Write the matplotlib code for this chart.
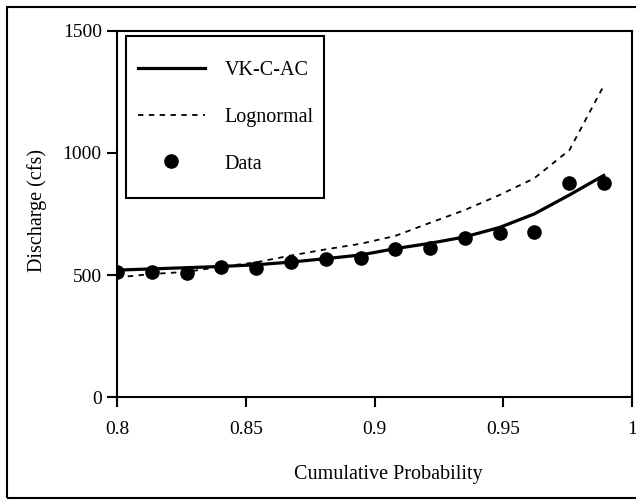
import matplotlib
matplotlib.use("Agg")
import matplotlib.pyplot as plt
from matplotlib.patches import Rectangle

# cumulative probability (plotting positions)
prob = [0.8, 0.8135, 0.827, 0.8405, 0.854, 0.8676, 0.881, 0.8946,
        0.908, 0.9216, 0.935, 0.9486, 0.962, 0.9757, 0.989]
# observed discharge (cfs)
data_q = [513, 512, 507, 534, 530, 554, 564, 568,
          605, 609, 650, 671, 677, 878, 876]
# fitted curves
vkcac_q = [520, 525, 530, 535, 542, 553, 567, 582,
           608, 630, 656, 695, 750, 828, 908]
lognorm_q = [490, 504, 513, 534, 552, 580, 605, 628,
             660, 714, 766, 828, 896, 1012, 1275]

x_ticks = [0.8, 0.85, 0.9, 0.95, 1]
x_labels = ["0.8", "0.85", "0.9", "0.95", "1"]
y_ticks = [0, 500, 1000, 1500]

plt.rcParams['font.family'] = ['Liberation Serif', 'DejaVu Serif']

fig = plt.figure(figsize=(6.36, 5.03), dpi=100)
ax = fig.add_axes([0.184, 0.2107, 0.8097, 0.7277])

ax.plot(prob, vkcac_q, color="black", lw=2.3, label="VK-C-AC")
ax.plot(prob, lognorm_q, color="black", lw=1.3, dashes=(3, 3), label="Lognormal")
ax.plot(prob, data_q, "o", color="black", ms=9.5, label="Data")

ax.set_xlim(0.8, 1.0)
ax.set_ylim(0, 1500)
ax.set_xticks(x_ticks)
ax.set_xticklabels(x_labels)
ax.set_yticks(y_ticks)
ax.tick_params(direction="out", length=7, width=1.5, labelsize=14, pad=4)
ax.tick_params(axis="x", pad=10)
for sp in ax.spines.values():
    sp.set_linewidth(1.5)

ax.set_xlabel("Cumulative Probability", fontsize=14.5)
ax.set_ylabel("Discharge (cfs)", fontsize=14.5)
ax.xaxis.set_label_coords(0.526, -0.186)
ax.yaxis.set_label_coords(-0.136, 0.51)

# legend entries without frame, box drawn separately to match the original padding
leg = ax.legend(loc="upper left", bbox_to_anchor=(0.041, 0.919), borderaxespad=0,
                fontsize=14.5, handlelength=3.3, handletextpad=1.0,
                labelspacing=1.38, borderpad=0, frameon=False)
ax.add_patch(Rectangle((0.0175, 0.544), 0.385, 0.442, transform=ax.transAxes,
                       fill=False, lw=1.5, ec="black", zorder=5))

# outer box around the whole figure
fig.patches.append(Rectangle((0.011, 0.01), 1.1, 0.976, transform=fig.transFigure,
                             fill=False, lw=1.5, ec="black", clip_on=False))

fig.savefig("out.png", dpi=100)
